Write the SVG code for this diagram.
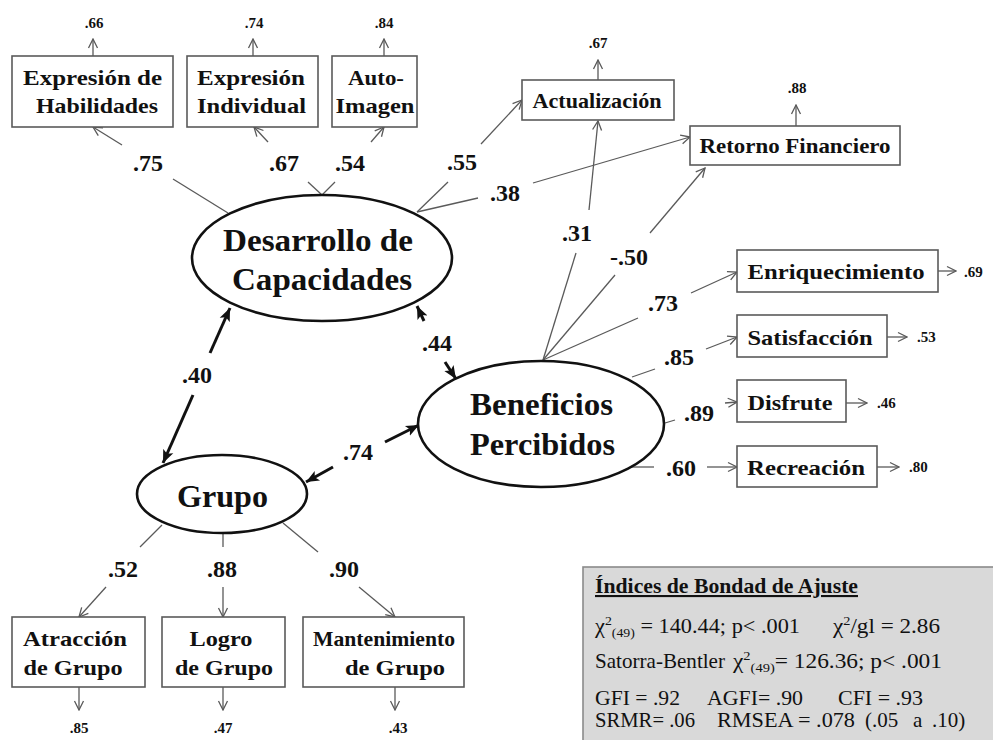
<svg xmlns="http://www.w3.org/2000/svg" width="993" height="740" viewBox="0 0 993 740">
<style>
text{font-family:"Liberation Serif","Times New Roman",serif;fill:#111}
.b{font-weight:bold}
.lbl{font-size:21px;font-weight:bold;text-anchor:middle}
.lat{font-size:31px;font-weight:bold;text-anchor:middle}
.co{font-size:24px;font-weight:bold;text-anchor:middle}
.er{font-size:15px;font-weight:bold;text-anchor:middle}
.ers{font-size:15px;font-weight:bold}
.fit{font-size:21px}
.sm{font-size:13px}
.box{fill:#fff;stroke:#5a5a5a;stroke-width:1.6}
.ell{fill:#fff;stroke:#111;stroke-width:2.6}
.ln{fill:none;stroke:#5a5a5a;stroke-width:1.3}
.ar{fill:none;stroke:#5a5a5a;stroke-width:1.3;marker-end:url(#oa)}
.th{fill:none;stroke:#111;stroke-width:3;marker-end:url(#ta)}
</style>
<defs>
<marker id="oa" markerUnits="userSpaceOnUse" markerWidth="12" markerHeight="12" viewBox="0 0 12 12" refX="11" refY="6" orient="auto">
<path d="M2,1.5 L11,6 L2,10.5" fill="none" stroke="#5a5a5a" stroke-width="1.3"/>
</marker>
<marker id="ta" markerUnits="userSpaceOnUse" markerWidth="14" markerHeight="14" viewBox="0 0 14 14" refX="13" refY="7" orient="auto">
<path d="M0,1.5 L13,7 L0,12.5 L3,7 z" fill="#111"/>
</marker>
</defs>

<g id="connectors">
<line class="ln" x1="228" y1="213" x2="173" y2="179"/>
<line class="ar" x1="122" y1="145" x2="93" y2="127"/>
<line class="ln" x1="322" y1="195" x2="308" y2="182"/>
<line class="ar" x1="268" y1="142" x2="254" y2="127"/>
<line class="ln" x1="322" y1="195" x2="335" y2="182"/>
<line class="ar" x1="371" y1="142" x2="384" y2="127"/>
<line class="ln" x1="417" y1="212" x2="448" y2="182"/>
<line class="ar" x1="481" y1="144" x2="522" y2="100"/>
<line class="ln" x1="417" y1="212" x2="478" y2="198"/>
<line class="ar" x1="533" y1="183" x2="690" y2="137"/>
<line class="ln" x1="543" y1="360" x2="576" y2="253"/>
<line class="ar" x1="589" y1="210" x2="598" y2="121"/>
<line class="ln" x1="543" y1="360" x2="615" y2="275"/>
<line class="ar" x1="650" y1="233" x2="705" y2="168"/>
<line class="ln" x1="543" y1="360" x2="638" y2="318"/>
<line class="ar" x1="691" y1="293" x2="737" y2="272"/>
<line class="ln" x1="632" y1="377" x2="655" y2="369"/>
<line class="ar" x1="706" y1="349" x2="737" y2="337"/>
<line class="ln" x1="665" y1="423" x2="675" y2="420"/>
<line class="ar" x1="725" y1="403" x2="737" y2="402"/>
<line class="ln" x1="632" y1="467" x2="654" y2="467"/>
<line class="ar" x1="707" y1="467" x2="737" y2="467"/>
<line class="ln" x1="162" y1="525" x2="140" y2="547"/>
<line class="ar" x1="106" y1="587" x2="79" y2="617"/>
<line class="ln" x1="223" y1="533" x2="223" y2="547"/>
<line class="ar" x1="223" y1="587" x2="223" y2="617"/>
<line class="ln" x1="283" y1="523" x2="318" y2="552"/>
<line class="ar" x1="359" y1="587" x2="395" y2="617"/>
<line class="ar" x1="93" y1="56" x2="93" y2="39"/>
<line class="ar" x1="253" y1="56" x2="253" y2="39"/>
<line class="ar" x1="384" y1="56" x2="384" y2="39"/>
<line class="ar" x1="598" y1="80" x2="598" y2="60"/>
<line class="ar" x1="796" y1="126" x2="796" y2="105"/>
<line class="ar" x1="938" y1="271" x2="956" y2="271"/>
<line class="ar" x1="887" y1="337" x2="907" y2="337"/>
<line class="ar" x1="846" y1="403" x2="867" y2="403"/>
<line class="ar" x1="877" y1="467" x2="899" y2="467"/>
<line class="ar" x1="79" y1="687" x2="79" y2="710"/>
<line class="ar" x1="223" y1="687" x2="223" y2="710"/>
<line class="ar" x1="395" y1="687" x2="395" y2="710"/>
<line class="th" x1="210" y1="353" x2="230" y2="308"/>
<line class="th" x1="193" y1="395" x2="163" y2="463"/>
<line class="th" x1="424" y1="321" x2="417" y2="306"/>
<line class="th" x1="445" y1="362" x2="456" y2="379"/>
<line class="th" x1="385" y1="442" x2="419" y2="425"/>
<line class="th" x1="333" y1="467" x2="306" y2="482"/>
</g>

<g id="labels">
<text class="co" x="148" y="171">.75</text>
<text class="co" x="284" y="171">.67</text>
<text class="co" x="350" y="171">.54</text>
<text class="co" x="462" y="170">.55</text>
<text class="co" x="505" y="201">.38</text>
<text class="co" x="577" y="241">.31</text>
<text class="co" x="629" y="265">-.50</text>
<text class="co" x="663" y="311">.73</text>
<text class="co" x="679" y="365">.85</text>
<text class="co" x="699" y="421">.89</text>
<text class="co" x="681" y="476">.60</text>
<text class="co" x="197" y="383">.40</text>
<text class="co" x="437" y="351">.44</text>
<text class="co" x="358" y="460">.74</text>
<text class="co" x="123" y="577">.52</text>
<text class="co" x="222" y="577">.88</text>
<text class="co" x="344" y="577">.90</text>
<text class="er" x="94" y="28">.66</text>
<text class="er" x="254" y="28">.74</text>
<text class="er" x="384" y="28">.84</text>
<text class="er" x="598" y="48">.67</text>
<text class="er" x="797" y="93">.88</text>
<text class="ers" x="964" y="277">.69</text>
<text class="ers" x="917" y="342">.53</text>
<text class="ers" x="877" y="408">.46</text>
<text class="ers" x="909" y="472">.80</text>
<text class="er" x="79" y="733">.85</text>
<text class="er" x="223" y="733">.47</text>
<text class="er" x="398" y="733">.43</text>
</g>

<g id="expresion-habilidades">
<rect class="box" x="12" y="56" width="161" height="71"/>
<text class="lbl" x="92.5" y="85" textLength="139" lengthAdjust="spacingAndGlyphs">Expresión de</text>
<text class="lbl" x="97" y="113" textLength="122" lengthAdjust="spacingAndGlyphs">Habilidades</text>
</g>
<g id="expresion-individual">
<rect class="box" x="187" y="56" width="131" height="71"/>
<text class="lbl" x="251" y="85" textLength="108" lengthAdjust="spacingAndGlyphs">Expresión</text>
<text class="lbl" x="251.5" y="113" textLength="109" lengthAdjust="spacingAndGlyphs">Individual</text>
</g>
<g id="auto-imagen">
<rect class="box" x="332" y="56" width="85" height="71"/>
<text class="lbl" x="376" y="85" textLength="56" lengthAdjust="spacingAndGlyphs">Auto-</text>
<text class="lbl" x="375" y="113" textLength="79" lengthAdjust="spacingAndGlyphs">Imagen</text>
</g>
<g id="actualizacion">
<rect class="box" x="522" y="80" width="152" height="40"/>
<text class="lbl" x="597" y="108" textLength="129" lengthAdjust="spacingAndGlyphs">Actualización</text>
</g>
<g id="retorno-financiero">
<rect class="box" x="690" y="126" width="210" height="39"/>
<text class="lbl" x="795" y="153" textLength="191" lengthAdjust="spacingAndGlyphs">Retorno Financiero</text>
</g>
<g id="enriquecimiento">
<rect class="box" x="737" y="250" width="201" height="42"/>
<text class="lbl" x="836" y="279" textLength="177" lengthAdjust="spacingAndGlyphs">Enriquecimiento</text>
</g>
<g id="satisfaccion">
<rect class="box" x="737" y="315" width="150" height="42"/>
<text class="lbl" x="810" y="345" textLength="125" lengthAdjust="spacingAndGlyphs">Satisfacción</text>
</g>
<g id="disfrute">
<rect class="box" x="737" y="380" width="109" height="42"/>
<text class="lbl" x="790" y="410" textLength="85" lengthAdjust="spacingAndGlyphs">Disfrute</text>
</g>
<g id="recreacion">
<rect class="box" x="737" y="446" width="140" height="41"/>
<text class="lbl" x="806" y="475" textLength="118" lengthAdjust="spacingAndGlyphs">Recreación</text>
</g>
<g id="atraccion-grupo">
<rect class="box" x="12" y="617" width="133" height="70"/>
<text class="lbl" x="75" y="646" textLength="104" lengthAdjust="spacingAndGlyphs">Atracción</text>
<text class="lbl" x="73" y="675" textLength="99" lengthAdjust="spacingAndGlyphs">de Grupo</text>
</g>
<g id="logro-grupo">
<rect class="box" x="162" y="617" width="123" height="70"/>
<text class="lbl" x="221" y="646" textLength="63" lengthAdjust="spacingAndGlyphs">Logro</text>
<text class="lbl" x="224" y="675" textLength="98" lengthAdjust="spacingAndGlyphs">de Grupo</text>
</g>
<g id="mantenimiento-grupo">
<rect class="box" x="303" y="617" width="161" height="70"/>
<text class="lbl" x="384" y="646" textLength="142" lengthAdjust="spacingAndGlyphs">Mantenimiento</text>
<text class="lbl" x="395" y="675" textLength="100" lengthAdjust="spacingAndGlyphs">de Grupo</text>
</g>

<g id="desarrollo-capacidades">
<ellipse class="ell" cx="322" cy="258" rx="130" ry="63"/>
<text class="lat" x="318" y="251" textLength="190" lengthAdjust="spacingAndGlyphs">Desarrollo de</text>
<text class="lat" x="322" y="290" textLength="180" lengthAdjust="spacingAndGlyphs">Capacidades</text>
</g>
<g id="beneficios-percibidos">
<ellipse class="ell" cx="541" cy="424" rx="123" ry="63"/>
<text class="lat" x="541.5" y="415" textLength="143" lengthAdjust="spacingAndGlyphs">Beneficios</text>
<text class="lat" x="542.5" y="455" textLength="145" lengthAdjust="spacingAndGlyphs">Percibidos</text>
</g>
<g id="grupo">
<ellipse class="ell" cx="222" cy="494" rx="85" ry="39"/>
<text class="lat" x="222.5" y="507" textLength="91" lengthAdjust="spacingAndGlyphs">Grupo</text>
</g>

<g id="indices-ajuste">
<rect x="583" y="567" width="420" height="185" fill="#d9d9d9" stroke="#8a8a8a" stroke-width="1.6"/>
<text class="fit b" x="595" y="593" text-decoration="underline" textLength="263" lengthAdjust="spacingAndGlyphs">Índices  de Bondad de Ajuste</text>
<text class="fit" x="595" y="633" textLength="205" lengthAdjust="spacingAndGlyphs">χ<tspan class="sm" dy="-8">2</tspan><tspan class="sm" dy="12">(49)</tspan><tspan dy="-4"> = 140.44; p&lt; .001</tspan></text>
<text class="fit" x="833" y="633" textLength="107" lengthAdjust="spacingAndGlyphs">χ<tspan class="sm" dy="-8">2</tspan><tspan dy="8">/gl = 2.86</tspan></text>
<text class="fit" x="595" y="668" textLength="130" lengthAdjust="spacingAndGlyphs">Satorra-Bentler</text>
<text class="fit" x="733" y="668" textLength="209" lengthAdjust="spacingAndGlyphs">χ<tspan class="sm" dy="-8">2</tspan><tspan class="sm" dy="12">(49)</tspan><tspan dy="-4">=  126.36; p&lt; .001</tspan></text>
<text class="fit" x="595" y="705" textLength="85" lengthAdjust="spacingAndGlyphs">GFI = .92</text>
<text class="fit" x="707" y="705" textLength="96" lengthAdjust="spacingAndGlyphs">AGFI= .90</text>
<text class="fit" x="838" y="705" textLength="85" lengthAdjust="spacingAndGlyphs">CFI = .93</text>
<text class="fit" x="595" y="727" textLength="100" lengthAdjust="spacingAndGlyphs">SRMR= .06</text>
<text class="fit" x="717" y="727" textLength="138" lengthAdjust="spacingAndGlyphs">RMSEA = .078</text>
<text class="fit" x="865" y="727">(.05</text>
<text class="fit" x="913" y="727">a</text>
<text class="fit" x="932" y="727">.10)</text>
</g>
</svg>
